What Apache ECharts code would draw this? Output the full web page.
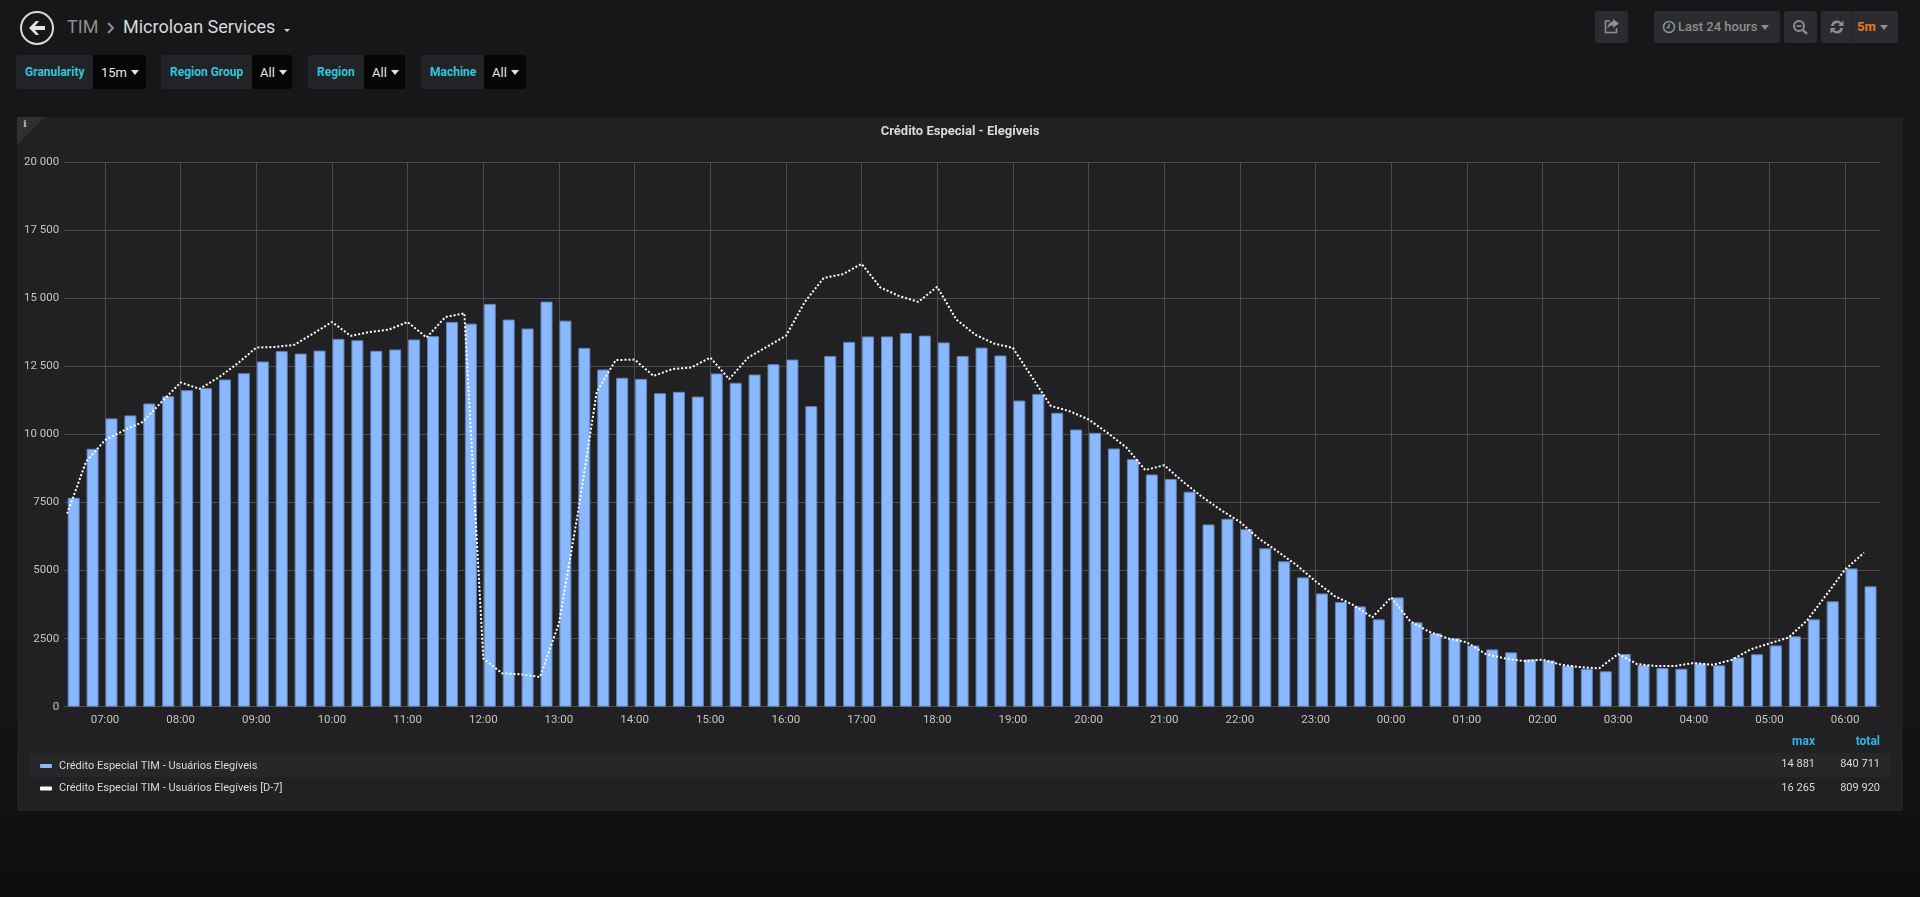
<!DOCTYPE html>
<html><head><meta charset="utf-8">
<script src="https://cdn.jsdelivr.net/npm/echarts@6/dist/echarts.min.js"></script>
<style>
html,body{margin:0;padding:0;width:1920px;height:897px;overflow:hidden;background:linear-gradient(#161719 0,#161719 600px,#0d0e0f 897px);font-family:Roboto,sans-serif}
.abs{position:absolute}
#panel{position:absolute;left:17px;top:117px;width:1886px;height:694px;background:#212124}
#corner{position:absolute;left:17px;top:117px;width:28px;height:28px;background:#303033;clip-path:polygon(0 0,100% 0,0 100%)}
#cornerI{position:absolute;left:23px;top:118px;font:bold 10px "DejaVu Serif",serif;color:#b8b8b8}
#chart{position:absolute;left:0;top:0;width:1920px;height:897px}
.crumb{position:absolute;top:14px;font-size:18px;line-height:26px;white-space:nowrap}
.vbox{position:absolute;top:55px;height:34px;background:#212327;border-radius:3px;box-sizing:border-box}
.vlab{position:absolute;top:0;line-height:35px;font-size:12px;font-weight:700;color:#33c5d8;white-space:nowrap}
.vval{position:absolute;top:0;bottom:0;right:0;background:#060607;border-radius:0 3px 3px 0;color:#e4e4e4;font-size:13px;line-height:36px;padding-left:8px;box-sizing:border-box;white-space:nowrap}
.caret{display:inline-block;width:0;height:0;border-left:4.5px solid transparent;border-right:4.5px solid transparent;border-top:5px solid currentColor;vertical-align:2px;margin-left:4px}
.btn{position:absolute;top:11px;height:32px;background:#2b2c2f;border-radius:3px;color:#8e8e8e;font-size:13px;font-weight:500;line-height:32px;white-space:nowrap}
svg{display:block}
</style></head><body>
<div id="panel"></div><div id="corner"></div><div id="cornerI">i</div>

<svg class="abs" style="left:19px;top:10px" width="36" height="36" viewBox="0 0 36 36">
<circle cx="18" cy="18" r="16" fill="none" stroke="#d8d9da" stroke-width="2"/>
<path d="M10 18 L17 11 L20 11 L16 16 L26 16 L26 20 L16 20 L20 25 L17 25 Z" fill="#e4e4e4"/></svg>
<div class="crumb" style="left:67px;color:#8e8e8e">TIM</div>
<svg class="abs" style="left:106px;top:21px" width="10" height="14" viewBox="0 0 10 14"><path d="M2 2 L7 7 L2 12" fill="none" stroke="#8e8e8e" stroke-width="2"/></svg>
<div class="crumb" style="left:123px;color:#d8d9da">Microloan Services</div>
<div class="abs" style="left:284px;top:29px;width:0;height:0;border-left:3.5px solid transparent;border-right:3.5px solid transparent;border-top:3.5px solid #d8d9da"></div>

<div class="vbox" style="left:16px;width:130px"><div class="vlab" style="left:9px">Granularity</div><div class="vval" style="width:53px">15m<span class="caret"></span></div></div>
<div class="vbox" style="left:161px;width:131px"><div class="vlab" style="left:9px">Region Group</div><div class="vval" style="width:40px">All<span class="caret"></span></div></div>
<div class="vbox" style="left:308px;width:97px"><div class="vlab" style="left:9px">Region</div><div class="vval" style="width:41px">All<span class="caret"></span></div></div>
<div class="vbox" style="left:421px;width:105px"><div class="vlab" style="left:9px">Machine</div><div class="vval" style="width:42px">All<span class="caret"></span></div></div>

<div class="btn" style="left:1595px;width:33px"><svg style="margin:7px 0 0 9px" width="16" height="16" viewBox="0 0 16 16"><path d="M9 1 L15 5.5 L9 10 L9 7.5 C6 7.5 4.5 8.5 3.5 11 C3.5 7 5.5 4 9 3.5 Z" fill="#8e8e8e"/><path d="M6 3 L1.5 3 L1.5 14.5 L12.5 14.5 L12.5 10" fill="none" stroke="#8e8e8e" stroke-width="1.6"/></svg></div>
<div class="btn" style="left:1654px;width:126px"><svg class="abs" style="left:8px;top:9px" width="14" height="14" viewBox="0 0 14 14"><circle cx="7" cy="7" r="5.5" fill="none" stroke="#8e8e8e" stroke-width="1.6"/><path d="M7 3.5 L7 7.5 L4.5 7.5" fill="none" stroke="#8e8e8e" stroke-width="1.4"/></svg><span class="abs" style="left:24px">Last 24 hours</span><span class="caret abs" style="left:107px;top:14px;margin:0"></span></div>
<div class="btn" style="left:1784px;width:33px"><svg style="margin:8px 0 0 8px" width="17" height="17" viewBox="0 0 17 17"><circle cx="7" cy="7" r="5" fill="none" stroke="#8e8e8e" stroke-width="2"/><path d="M4.5 7 L9.5 7" stroke="#8e8e8e" stroke-width="1.6"/><path d="M11 11 L15 15" stroke="#8e8e8e" stroke-width="2.4"/></svg></div>
<div class="btn" style="left:1821px;width:77px"><svg class="abs" style="left:8px;top:8px" width="16" height="16" viewBox="0 0 16 16"><path d="M2 7 A6 6 0 0 1 12.5 3.5 L14.5 1.5 L14.5 7 L9 7 L11 5 A4 4 0 0 0 4.5 7 Z M14 9 A6 6 0 0 1 3.5 12.5 L1.5 14.5 L1.5 9 L7 9 L5 11 A4 4 0 0 0 11.5 9 Z" fill="#8e8e8e"/></svg><div class="abs" style="left:30px;top:0;width:1px;height:32px;background:#212124"></div><span class="abs" style="left:36px;color:#eb7b18;font-weight:700">5m</span><span class="caret abs" style="left:59px;top:14px;margin:0"></span></div>

<div id="chart"></div>
<script>
const chartTitle = 'Crédito Especial - Elegíveis';
const seriesNames = ['Crédito Especial TIM - Usuários Elegíveis', 'Crédito Especial TIM - Usuários Elegíveis [D-7]'];
const statHeaders = ['max', 'total'];
const maxLabels = ['14 881', '16 265'];
const totalLabels = ['840 711', '809 920'];
const startTime = Date.UTC(2024, 0, 1, 6, 30);
const stepMs = 15 * 60000;

const currentValues = [
 7675,9474,10590,10700,11136,11405,11625,11700,12020,12250,12680,13060,
 12970,13080,13510,13460,13070,13120,13490,13610,14130,14070,14795,14220,
 13890,14881,14180,13180,12385,12080,12040,11515,11565,11390,12240,11895,
 12200,12580,12750,11040,12885,13400,13600,13600,13730,13630,13380,12885,
 13190,12900,11245,11490,10795,10180,10060,9485,9090,8530,8360,7895,
 6695,6900,6520,5820,5340,4750,4160,3845,3685,3208,4015,3098,
 2695,2520,2250,2105,1995,1740,1700,1505,1395,1300,1935,1530,
 1420,1395,1590,1520,1810,1925,2250,2585,3208,3870,5080,4420];

const previousValues = [
 7090,9000,9790,10150,10460,11200,11910,11675,12090,12600,13190,13215,
 13290,13700,14130,13620,13765,13850,14130,13560,14315,14450,1775,1225,
 1190,1090,3060,7100,11565,12730,12750,12150,12400,12460,12825,12030,
 12825,13220,13620,14870,15750,15885,16265,15395,15080,14870,15420,14230,
 13670,13340,13180,12115,11050,10855,10550,10060,9520,8690,8870,8260,
 7710,7220,6790,6180,5700,5200,4610,4065,3735,3280,4015,3145,
 2755,2510,2365,1935,1775,1675,1725,1540,1455,1410,1935,1565,
 1495,1495,1605,1540,1715,2105,2325,2535,3180,4100,5040,5655];

const pad = n => String(n).padStart(2, '0');
const slotTimes = currentValues.map((_, i) => startTime + i * stepMs);
const slotLabels = slotTimes.map(t => { const d = new Date(t); return pad(d.getUTCHours()) + ':' + pad(d.getUTCMinutes()); });

const gridLeft = 64.2, gridRight = 40, gridTop = 162.2, gridBottom = 190.3, barW = 13;
const plotW = 1920 - gridLeft - gridRight;
const bandPx = plotW / slotTimes.length;
const leadMs = ((bandPx - barW) / 2) / bandPx * stepMs;  // bars sit to the right of their tick
const timeMin = startTime - leadMs, timeMax = timeMin + slotTimes.length * stepMs;

const axisText = '#c4c4c4', gridCol = '#4c4c50';
const txt = (x, y, text, fill, align, weight, size) => ({type:'text', silent:true, style:{x, y, text, fill, align:align||'right', verticalAlign:'middle', font:(weight||'400')+' '+(size||11)+'px Roboto'}});

const chart = echarts.init(document.getElementById('chart'), null, {renderer:'canvas'});
chart.setOption({
  animation:false, useUTC:true, backgroundColor:'transparent',
  title:{text:chartTitle, left:'center', top:120.5, textStyle:{color:'#d8d9da', fontFamily:'Roboto', fontWeight:700, fontSize:13}},
  grid:{left:gridLeft, right:gridRight, top:gridTop, bottom:gridBottom, containLabel:false},
  xAxis:[
    {type:'category', data:slotLabels, show:false, boundaryGap:true, position:'bottom'},
    {type:'time', position:'bottom', min:timeMin, max:timeMax, minInterval:3600000, maxInterval:3600000,
     axisLine:{show:true, onZero:false, lineStyle:{color:gridCol}}, axisTick:{show:false},
     splitLine:{show:true, showMinLine:false, showMaxLine:false, lineStyle:{color:gridCol, width:1}},
     axisLabel:{color:axisText, fontFamily:'Roboto', fontSize:11.5, margin:7, showMinLabel:false, showMaxLabel:false, hideOverlap:false,
       formatter:v => { const d = new Date(v); return pad(d.getUTCHours()) + ':' + pad(d.getUTCMinutes()); }}}
  ],
  yAxis:{type:'value', min:0, max:20000, interval:2500,
    axisLine:{show:false}, axisTick:{show:false},
    splitLine:{show:true, lineStyle:{color:gridCol, width:1}},
    axisLabel:{color:axisText, fontFamily:'Roboto', fontSize:11.5, margin:5,
      formatter:v => v >= 10000 ? Math.floor(v/1000) + ' ' + String(v%1000).padStart(3,'0') : String(v)}},
  legend:{orient:'vertical', left:40, top:760.5, padding:0, itemWidth:12, itemHeight:4, itemGap:11.5, icon:'roundRect', selectedMode:false,
    textStyle:{color:'#d8d9da', fontFamily:'Roboto', fontSize:11, padding:[0,0,0,2]},
    data:[{name:seriesNames[0], itemStyle:{color:'#8ab8ff', borderWidth:0}}, {name:seriesNames[1], itemStyle:{color:'#ffffff', borderWidth:0}}]},
  series:[
    {name:seriesNames[0], type:'bar', xAxisIndex:0, data:currentValues, barWidth:barW-1,
     itemStyle:{color:'#8ab8ff', borderColor:'#6484ba', borderWidth:1}, z:3},
    {name:seriesNames[1], type:'line', xAxisIndex:1, data:slotTimes.map((t,i)=>[t, previousValues[i]]), symbol:'none', smooth:false,
     lineStyle:{color:'#ffffff', width:2, type:[2,2]}, itemStyle:{color:'#ffffff'}, z:5}
  ],
  graphic:[
    {type:'rect', silent:true, z:-1, shape:{x:30, y:753, width:1860, height:24}, style:{fill:'#27272a'}},
    txt(1815, 742, statHeaders[0], '#33b5e5', 'right', '700', 12),
    txt(1880, 742, statHeaders[1], '#33b5e5', 'right', '700', 12),
    txt(1815, 764.5, maxLabels[0], '#d8d9da'),
    txt(1880, 764.5, totalLabels[0], '#d8d9da'),
    txt(1815, 788.5, maxLabels[1], '#d8d9da'),
    txt(1880, 788.5, totalLabels[1], '#d8d9da')
  ]
});
</script>
</body></html>
